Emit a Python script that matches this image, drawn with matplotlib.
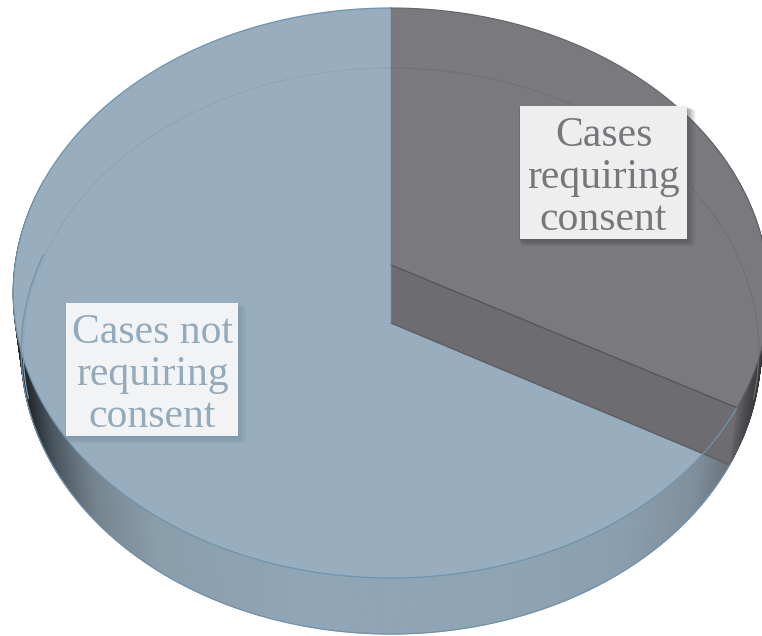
import numpy as np
import matplotlib
matplotlib.use("Agg")
import matplotlib.pyplot as plt
from matplotlib.patches import Polygon, Rectangle
from matplotlib.collections import PolyCollection
from matplotlib.colors import to_rgb

# data
categories = ["Cases\nrequiring\nconsent", "Cases not\nrequiring\nconsent"]
shares = [33, 67]

W, H = 762, 636
fig = plt.figure(figsize=(W / 100, H / 100), dpi=100)
ax = fig.add_axes([0, 0, 1, 1])
ax.set_xlim(0, W)
ax.set_ylim(H, 0)
ax.axis("off")


def plane(y_apex, y_far, y_near, c, cx=391):
    """Perspective projection of the unit disc on a horizontal plane."""
    k = (y_far + y_near - 2 * y_apex) / (y_near - y_far)
    b = y_far * (1 + k) - y_apex

    def f(theta):
        u, v = np.sin(theta), np.cos(theta)
        w = 1 + k * v
        return cx + c * u / w, (y_apex + b * v) / w
    return f


top = plane(265, 8, 578, 376)
bottom = plane(323, 68, 634, 368)
inner = plane(323, 68, 634, 366)

split = 2 * np.pi * shares[0] / sum(shares)
BLUE, DARK = "#98adbd", "#7a797e"
WALL = "#6c6c71"


def ramp(x, stops):
    xs = [s[0] for s in stops]
    cols = np.array([to_rgb(s[1]) for s in stops])
    return np.column_stack([np.interp(x, xs, cols[:, i]) for i in range(3)])


blue_stops = [(30, "#22282c"), (60, "#4e5a63"), (100, "#75858f"), (160, "#8a9dab"),
              (300, "#90a5b5"), (500, "#8fa4b3"), (620, "#8a9eae"), (690, "#7f8f9c"),
              (730, "#69727a")]
dark_stops = [(728, "#68686c"), (742, "#4a4a4e"), (762, "#2e2e32")]

# outer side band
t = np.linspace(split, 2 * np.pi * 0.8, 500)
xt, yt = top(t)
xb, yb = bottom(t)
quads = [[(xt[i], yt[i]), (xt[i + 1], yt[i + 1]), (xb[i + 1], yb[i + 1]), (xb[i], yb[i])]
         for i in range(len(t) - 1)]
cols = ramp(xb[:-1], blue_stops)
ax.add_collection(PolyCollection(quads, facecolors=cols, edgecolors=cols, linewidths=0.6, zorder=1))

t = np.linspace(np.pi * 0.3, split, 150)
xt, yt = top(t)
xb, yb = bottom(t)
quads = [[(xt[i], yt[i]), (xt[i + 1], yt[i + 1]), (xb[i + 1], yb[i + 1]), (xb[i], yb[i])]
         for i in range(len(t) - 1)]
cols = ramp(xb[:-1], dark_stops)
ax.add_collection(PolyCollection(quads, facecolors=cols, edgecolors=cols, linewidths=0.6, zorder=1))

# top faces
ta = np.linspace(split, 2 * np.pi, 600)
x, y = top(ta)
apex = top(np.array([0.0]))[0][0], 265
ax.add_patch(Polygon(np.column_stack([np.r_[apex[0], x], np.r_[apex[1], y]]),
                     closed=True, fc=BLUE, ec="none", zorder=2))
td = np.linspace(0, split, 300)
x, y = top(td)
ax.add_patch(Polygon(np.column_stack([np.r_[apex[0], x], np.r_[apex[1], y]]),
                     closed=True, fc=DARK, ec="none", zorder=3))

# radial wall
xt1, yt1 = top(np.array([split]))
xb1, yb1 = bottom(np.array([split]))
wall = [(391, 265), (xt1[0], yt1[0]), (xb1[0], yb1[0]), (391, 323)]
ax.add_patch(Polygon(wall, closed=True, fc=WALL, ec="none", zorder=4))
ax.plot([391, xt1[0]], [265, yt1[0]], color="#55555a", lw=1, zorder=6)
ax.plot([391, xb1[0]], [323, yb1[0]], color="#5d5d62", lw=1, zorder=6)
ax.plot([391, 391], [8, 323], color="#66778a", lw=0.9, zorder=6)

# faint far rim seen through the disc
x, y = inner(np.linspace(split, 2 * np.pi, 400))
mask = y < 400
ax.plot(x[mask], y[mask], color="#8ea5b6", lw=0.8, zorder=5)
x, y = inner(np.linspace(0, split, 300))
mask = y < 400
ax.plot(x[mask], y[mask], color="#6f6f74", lw=0.8, zorder=5)

# outlines
x, y = top(np.linspace(split, 2 * np.pi, 600))
ax.plot(x, y, color="#6f93ad", lw=0.9, zorder=7)
x, y = top(np.linspace(0, split, 300))
ax.plot(x, y, color="#626267", lw=0.8, zorder=7)
x, y = bottom(np.linspace(split, 2 * np.pi * 0.79, 500))
ax.plot(x, y, color="#7292aa", lw=0.9, zorder=7)


def label(text, x0, x1, y0, y1, face, ink, shadow):
    for i in range(6, 0, -1):
        ax.add_patch(Rectangle((x0 - 2 + i * 0.6, y0 + i * 0.6), x1 - x0 + i * 1.0, y1 - y0 + i * 0.6,
                               fc=shadow, ec="none", alpha=0.13, zorder=8))
    ax.add_patch(Rectangle((x0, y0), x1 - x0, y1 - y0, fc=face, ec="none", zorder=9))
    ax.text((x0 + x1) / 2, (y0 + y1) / 2 + 5, text, ha="center", va="center", color=ink,
            family="Liberation Serif", fontsize=30, linespacing=1.12, zorder=10)


label(categories[0], 520, 687, 106, 239, "#eeeeef", "#77767b", "#4a4a4f")
label(categories[1], 66, 238, 303, 436, "#f2f3f5", "#93aabb", "#6f8aa0")

fig.savefig("out.png", dpi=100)
